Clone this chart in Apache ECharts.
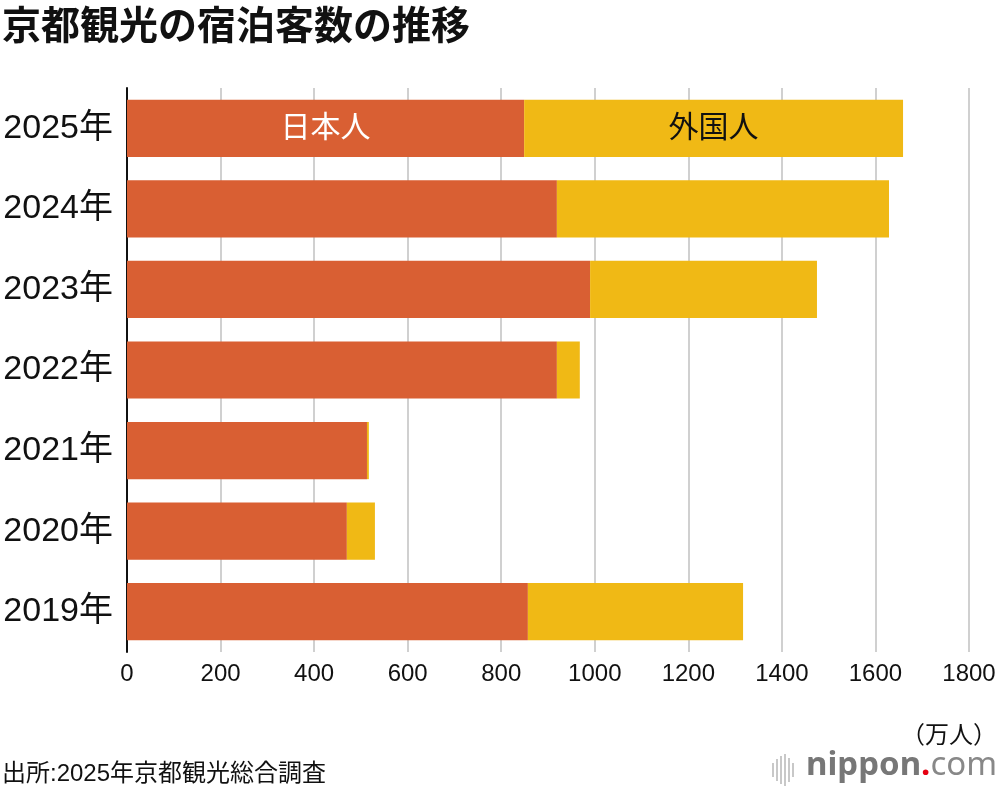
<!DOCTYPE html>
<html>
<head>
<meta charset="utf-8">
<script src="https://cdn.jsdelivr.net/npm/echarts@6/dist/echarts.min.js"></script>
<style>
  html, body { margin: 0; padding: 0; background: #fff; }
  #main { width: 1000px; height: 792px; }
</style>
</head>
<body>
<div id="main"></div>
<script>
// data (万人), top row first in the list below is 2019
const years = ["2019年", "2020年", "2021年", "2022年", "2023年", "2024年", "2025年"];
const japanese = [857, 470, 513, 919, 990, 919, 849];
const foreign = [460, 60, 4, 49, 485, 710, 810];
const xTicks = [0, 200, 400, 600, 800, 1000, 1200, 1400, 1600, 1800];

const FONT = '"Liberation Sans", "Noto Sans CJK JP", sans-serif';
const chart = echarts.init(document.getElementById("main"));

// label only on the latest year
const lastIdx = years.length - 1;
function withLabel(arr, text, color) {
  return arr.map((v, i) => {
    if (i !== lastIdx) return v;
    return {
      value: v,
      label: { show: true, position: "inside", formatter: text, color: color, fontSize: 30, fontFamily: FONT }
    };
  });
}

const option = {
  backgroundColor: "#fff",
  animation: false,
  title: {
    text: "京都観光の宿泊客数の推移",
    left: -3,
    top: 4,
    textStyle: { fontSize: 39, fontWeight: "bold", color: "#111", fontFamily: FONT }
  },
  grid: { left: 127, right: 31, top: 88, bottom: 140, containLabel: false },
  xAxis: {
    type: "value",
    min: xTicks[0],
    max: xTicks[xTicks.length - 1],
    interval: 200,
    axisLine: { show: false },
    axisTick: { show: false },
    splitLine: { show: true, lineStyle: { color: "#d0d0d0", width: 2 } },
    axisLabel: { color: "#111", fontSize: 24, margin: 10, fontFamily: FONT, formatter: (v) => String(v) }
  },
  yAxis: {
    type: "category",
    data: years,
    axisLine: { show: true, lineStyle: { color: "#111", width: 2 } },
    axisTick: { show: false },
    axisLabel: { color: "#111", fontSize: 34, margin: 14, fontFamily: FONT }
  },
  series: [
    {
      name: "日本人",
      type: "bar",
      stack: "total",
      barCategoryGap: "29%",
      itemStyle: { color: "#d95f33" },
      data: withLabel(japanese, "日本人", "#fff")
    },
    {
      name: "外国人",
      type: "bar",
      stack: "total",
      barCategoryGap: "29%",
      itemStyle: { color: "#f0b915" },
      data: withLabel(foreign, "外国人", "#111")
    }
  ],
  graphic: [
    {
      type: "text",
      right: 3,
      top: 724,
      style: { text: "（万人）", fill: "#111", font: "24px " + FONT }
    },
    {
      type: "text",
      left: 2,
      top: 762,
      style: { text: "出所:2025年京都観光総合調査", fill: "#111", font: "24px " + FONT }
    },
    {
      type: "group",
      left: 772,
      top: 754,
      children: [
        { type: "rect", shape: { x: 0, y: 9, width: 2, height: 14 }, style: { fill: "#c8c8c8" } },
        { type: "rect", shape: { x: 4, y: 5, width: 2, height: 22 }, style: { fill: "#c8c8c8" } },
        { type: "rect", shape: { x: 8, y: 2, width: 2, height: 28 }, style: { fill: "#c8c8c8" } },
        { type: "rect", shape: { x: 12, y: 0, width: 2, height: 32 }, style: { fill: "#c8c8c8" } },
        { type: "rect", shape: { x: 16, y: 4, width: 2, height: 24 }, style: { fill: "#c8c8c8" } },
        { type: "rect", shape: { x: 20, y: 9, width: 2, height: 14 }, style: { fill: "#c8c8c8" } }
      ]
    },
    {
      type: "text",
      left: 806,
      top: 749,
      style: {
        text: "{a|nippon}{b|.}{c|com}",
        rich: {
          a: { fontSize: 33, fontWeight: "bold", fill: "#777", fontFamily: '"Noto Sans", sans-serif' },
          b: { fontSize: 33, fontWeight: "bold", fill: "#e60012", fontFamily: '"Noto Sans", sans-serif' },
          c: { fontSize: 33, fontWeight: "normal", fill: "#888", fontFamily: '"Noto Sans", sans-serif' }
        }
      }
    }
  ]
};

chart.setOption(option);
</script>
</body>
</html>
